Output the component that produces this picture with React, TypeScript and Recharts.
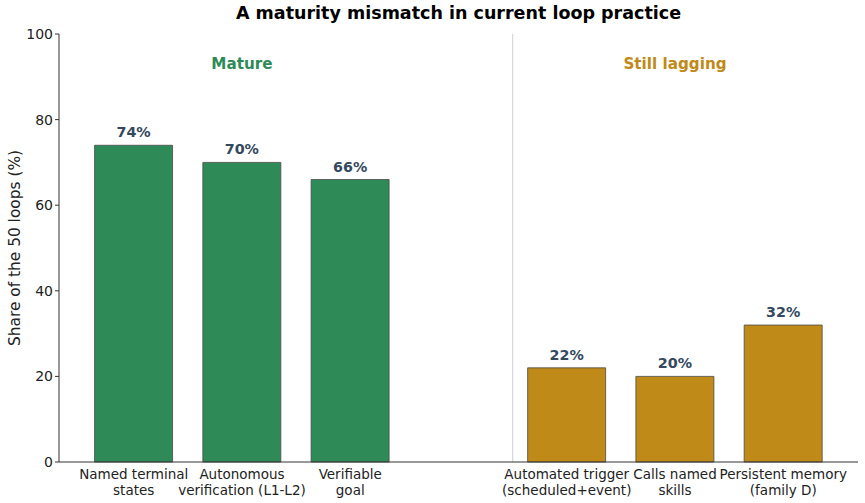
import React from "react";
import {
  BarChart, Bar, Cell, XAxis, YAxis, LabelList, ReferenceLine, ReferenceDot,
} from "recharts";

const categories = [
  ["Named terminal", "states"],
  ["Autonomous", "verification (L1-L2)"],
  ["Verifiable", "goal"],
  ["Automated trigger", "(scheduled+event)"],
  ["Calls named", "skills"],
  ["Persistent memory", "(family D)"],
];
const positions = [0, 1, 2, 4, 5, 6];
const shares = [74, 70, 66, 22, 20, 32];
const groups = ["mature", "mature", "mature", "lagging", "lagging", "lagging"];
const yTicks = [0, 20, 40, 60, 80, 100];

const GREEN = "#2e8b57";
const GOLD = "#bf8a18";
const FONT = "'DejaVu Sans', sans-serif";

const data = positions.map((pos, i) => ({
  pos,
  share: shares[i],
  group: groups[i],
}));

function CategoryTick(props: any) {
  const { x, y, payload } = props;
  const idx = positions.indexOf(payload.value);
  if (idx < 0) return null;
  const lines = categories[idx];
  return (
    <text x={x} y={y} textAnchor="middle" fontSize={13.5} fill="#222" fontFamily={FONT}>
      {lines.map((l, k) => (
        <tspan key={k} x={x} dy={k === 0 ? 9 : 16}>{l}</tspan>
      ))}
    </text>
  );
}

export default function App() {
  return (
    <div style={{ position: "absolute", left: 0, top: 0, width: 865, height: 503, background: "#fff", fontFamily: FONT }}>
      <div style={{ position: "absolute", left: 59, width: 799, top: 3, textAlign: "center", fontSize: 17.5, fontWeight: "bold", color: "#000" }}>
        A maturity mismatch in current loop practice
      </div>
      <BarChart width={865} height={503} data={data} margin={{ top: 34, right: 7, bottom: 0, left: 9 }}>
        <XAxis
          dataKey="pos"
          type="number"
          domain={[-0.69, 6.69]}
          ticks={positions}
          interval={0}
          height={41}
          tick={<CategoryTick />}
          tickLine={false}
          axisLine={{ stroke: "#333" }}
          allowDataOverflow
        />
        <YAxis
          domain={[0, 100]}
          ticks={yTicks}
          width={50}
          tick={{ fontSize: 14, fill: "#222", fontFamily: FONT }}
          tickLine={{ stroke: "#333" }}
          tickSize={4}
          axisLine={{ stroke: "#333" }}
          label={{ value: "Share of the 50 loops (%)", angle: -90, position: "insideLeft", offset: 6, style: { fontSize: 15.4, fill: "#222", fontFamily: FONT, textAnchor: "middle" } }}
        />
        <ReferenceLine x={3.5} stroke="#d5d8dc" strokeWidth={1.2} />
        <Bar dataKey="share" barSize={78} stroke="#4a4a4a" strokeWidth={0.8} isAnimationActive={false}>
          {data.map((d, i) => (
            <Cell key={i} fill={d.group === "mature" ? GREEN : GOLD} />
          ))}
          <LabelList
            dataKey="share"
            position="top"
            offset={8}
            formatter={(v: any) => `${v}%`}
            style={{ fontSize: 14.3, fontWeight: "bold", fill: "#34495e", fontFamily: FONT }}
          />
        </Bar>
        <ReferenceDot x={1} y={93} r={0} stroke="none" fill="none"
          label={{ value: "Mature", position: "center", style: { fontSize: 15.2, fontWeight: "bold", fill: GREEN, fontFamily: FONT } }} />
        <ReferenceDot x={5} y={93} r={0} stroke="none" fill="none"
          label={{ value: "Still lagging", position: "center", style: { fontSize: 15.2, fontWeight: "bold", fill: GOLD, fontFamily: FONT } }} />
      </BarChart>
    </div>
  );
}
